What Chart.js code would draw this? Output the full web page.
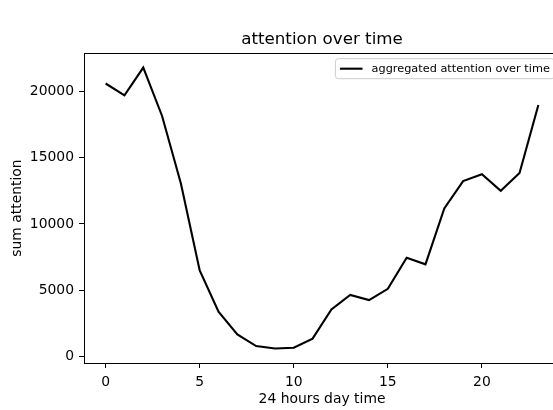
<!DOCTYPE html>
<html>
<head>
<meta charset="utf-8">
<title>attention over time</title>
<script src="https://cdn.jsdelivr.net/npm/chart.js@4/dist/chart.umd.min.js"></script>
<style>
  html, body { margin: 0; padding: 0; background: #fff; overflow: hidden; }
  #wrap { width: 600px; height: 410px; }
</style>
</head>
<body>
<div id="wrap"><canvas id="grafico" width="600" height="410"></canvas></div>
<script>
// datos
const horas = [0, 1, 2, 3, 4, 5, 6, 7, 8, 9, 10, 11, 12, 13, 14, 15, 16, 17, 18, 19, 20, 21, 22, 23];
const atencion = [20600, 19700, 21800, 18150, 13050, 6480, 3370, 1660, 780, 590, 650, 1340,
  3550, 4640, 4250, 5100, 7440, 6950, 11170, 13230, 13750, 12500, 13850, 18980];
const xTicks = [0, 5, 10, 15, 20];
const yTicks = [0, 5000, 10000, 15000, 20000];
const serieLabel = "aggregated attention over time";

const fuente = "DejaVu Sans";

// borde superior + leyenda estilo matplotlib
const extras = {
  id: "extras",
  afterDraw(chart) {
    const { ctx, chartArea } = chart;
    ctx.save();
    // borde de arriba
    ctx.strokeStyle = "#000";
    ctx.lineWidth = 1;
    ctx.beginPath();
    ctx.moveTo(chartArea.left, Math.round(chartArea.top) + 0.5);
    ctx.lineTo(chartArea.right, Math.round(chartArea.top) + 0.5);
    ctx.stroke();

    // leyenda
    const fs = 11.3;
    ctx.font = fs + "px '" + fuente + "'";
    const tw = ctx.measureText(serieLabel).width;
    const pad = 0.4 * fs;
    const handle = 2 * fs;
    const gap = 0.8 * fs;
    const w = pad + handle + gap + tw + pad;
    const h = 20;
    const right = chartArea.right - 0.5 * fs;
    const left = right - w;
    const top = chartArea.top + 0.5 * fs;
    ctx.fillStyle = "rgba(255,255,255,0.8)";
    ctx.strokeStyle = "#cccccc";
    ctx.beginPath();
    ctx.roundRect(left, top, w, h, 3);
    ctx.fill();
    ctx.stroke();
    const cy = top + h / 2;
    ctx.strokeStyle = "#000";
    ctx.lineWidth = 2.1;
    ctx.beginPath();
    ctx.moveTo(left + pad, cy);
    ctx.lineTo(left + pad + handle, cy);
    ctx.stroke();
    ctx.fillStyle = "#000";
    ctx.textBaseline = "middle";
    ctx.textAlign = "left";
    ctx.fillText(serieLabel, left + pad + handle + gap, cy);
    ctx.restore();
  }
};

const config = {
  type: "line",
  data: {
    datasets: [
      {
        label: serieLabel,
        data: horas.map((h, i) => ({ x: h, y: atencion[i] })),
        borderColor: "#000",
        borderWidth: 2.1,
        pointRadius: 0,
        tension: 0,
        fill: false,
      },
    ],
  },
  options: {
    responsive: false,
    animation: false,
    devicePixelRatio: 1,
    layout: { padding: { left: 0, right: 40, top: 0, bottom: 0 } },
    plugins: {
      legend: { display: false },
      tooltip: { enabled: false },
      title: {
        display: true,
        text: "attention over time",
        fullSize: false,
        color: "#000",
        font: { family: fuente, size: 16.7, weight: "normal" },
        padding: { top: 30, bottom: 3 },
      },
    },
    scales: {
      x: {
        type: "linear",
        min: -1.15,
        max: 24.15,
        afterBuildTicks: (scale) => {
          scale.ticks = xTicks.map((v) => ({ value: v }));
        },
        afterFit: (scale) => {
          scale.height = 47;
        },
        ticks: {
          color: "#000",
          padding: 6,
          maxRotation: 0,
          font: { family: fuente, size: 13.9 },
          callback: (v) => String(v),
        },
        grid: {
          drawOnChartArea: false,
          drawTicks: true,
          tickLength: 5,
          tickColor: "#000",
          tickWidth: 1,
        },
        border: { display: true, color: "#000", width: 1 },
        title: {
          display: true,
          text: "24 hours day time",
          color: "#000",
          font: { family: fuente, size: 13.9 },
          padding: { top: 0, bottom: 2 },
        },
      },
      y: {
        type: "linear",
        min: -500,
        max: 22900,
        afterBuildTicks: (scale) => {
          scale.ticks = yTicks.map((v) => ({ value: v }));
        },
        afterFit: (scale) => {
          scale.width = 84;
        },
        ticks: {
          color: "#000",
          padding: 5,
          font: { family: fuente, size: 13.9 },
          callback: (v) => String(v),
        },
        grid: {
          drawOnChartArea: false,
          drawTicks: true,
          tickLength: 5,
          tickColor: "#000",
          tickWidth: 1,
        },
        border: { display: true, color: "#000", width: 1 },
        title: {
          display: true,
          text: "sum attention",
          color: "#000",
          font: { family: fuente, size: 13.9 },
          padding: { top: 9, bottom: 0 },
        },
      },
    },
  },
  plugins: [extras],
};

const graficoAtencion = new Chart(document.getElementById("grafico"), config);
</script>
</body>
</html>
